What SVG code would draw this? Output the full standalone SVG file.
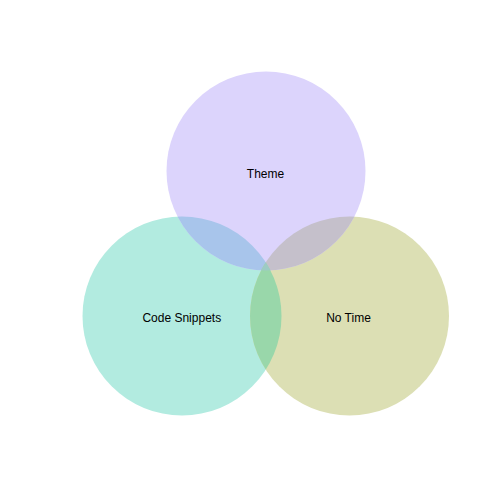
<svg xmlns="http://www.w3.org/2000/svg" width="504" height="504" viewBox="0 0 504 504">
<style>
text{font-family:"Liberation Sans",Arial,sans-serif;font-size:12px;fill:#000;text-anchor:middle}
</style>
<defs>
<clipPath id="clipT"><circle cx="266" cy="171" r="99.5"/></clipPath>
<clipPath id="clipC"><circle cx="182" cy="316" r="99.5"/></clipPath>
<clipPath id="clipN"><circle cx="349.5" cy="316" r="99.5"/></clipPath>
</defs>
<rect width="504" height="504" fill="#fff"/>
<g id="code-snippets">
<circle cx="182" cy="316" r="99.5" fill="#B2EBE0"/>
</g>
<g id="no-time">
<circle cx="349.5" cy="316" r="99.5" fill="#DCDFB4"/>
</g>
<g id="theme">
<circle cx="266" cy="171" r="99.5" fill="#DCD4FC"/>
</g>
<g id="overlaps">
<g clip-path="url(#clipT)"><circle cx="182" cy="316" r="99.5" fill="#A8C5EB"/></g>
<g clip-path="url(#clipT)"><circle cx="349.5" cy="316" r="99.5" fill="#C5C0CB"/></g>
<g clip-path="url(#clipC)"><circle cx="349.5" cy="316" r="99.5" fill="#99D7AA"/></g>
<g clip-path="url(#clipT)"><g clip-path="url(#clipC)"><circle cx="349.5" cy="316" r="99.5" fill="#9DCBC4"/></g></g>
</g>
<g id="labels">
<text x="265.5" y="178.3">Theme</text>
<text x="181.8" y="321.5">Code Snippets</text>
<text x="348.5" y="322.3">No Time</text>
</g>
</svg>
